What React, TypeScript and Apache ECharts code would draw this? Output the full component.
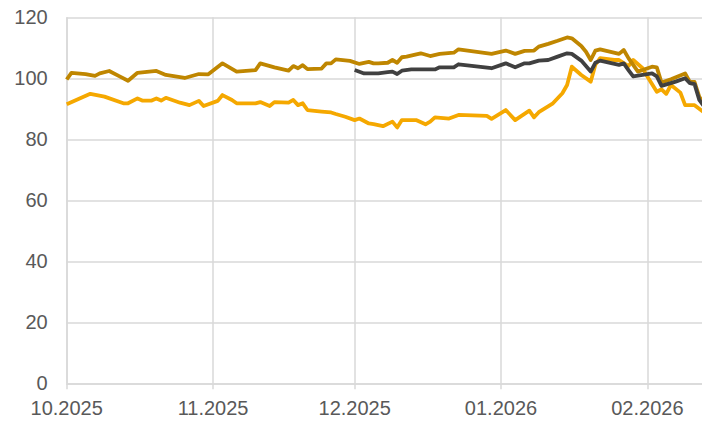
import React, { useEffect, useRef } from "react";
import * as echarts from "echarts";

// Dates (local, yyyy-MM-dd) and values
const goldDates = [
  "2025-10-01", "2025-10-02", "2025-10-05", "2025-10-07", "2025-10-08", "2025-10-10",
  "2025-10-12", "2025-10-14", "2025-10-16", "2025-10-20", "2025-10-22", "2025-10-26",
  "2025-10-29", "2025-10-31", "2025-11-03", "2025-11-06", "2025-11-10", "2025-11-11",
  "2025-11-14", "2025-11-17", "2025-11-18", "2025-11-19", "2025-11-20", "2025-11-21",
  "2025-11-24", "2025-11-25", "2025-11-26", "2025-11-27", "2025-11-30", "2025-12-02",
  "2025-12-04", "2025-12-05", "2025-12-06", "2025-12-08", "2025-12-09", "2025-12-10",
  "2025-12-11", "2025-12-12", "2025-12-15", "2025-12-17", "2025-12-19", "2025-12-22",
  "2025-12-23", "2025-12-30", "2026-01-02", "2026-01-04", "2026-01-06", "2026-01-08",
  "2026-01-09", "2026-01-11", "2026-01-13", "2026-01-15", "2026-01-16", "2026-01-18",
  "2026-01-19", "2026-01-20", "2026-01-21", "2026-01-22", "2026-01-26", "2026-01-27",
  "2026-01-28", "2026-01-30", "2026-01-31", "2026-02-02", "2026-02-03", "2026-02-04",
  "2026-02-06", "2026-02-09", "2026-02-10", "2026-02-11", "2026-02-12", "2026-02-13",
];
const goldValues = [
  99.6, 101.8, 101.4, 100.8, 101.6, 102.4,
  100.8, 99.2, 101.8, 102.4, 101.1, 100.1,
  101.4, 101.3, 104.9, 102.2, 102.7, 104.9,
  103.6, 102.5, 104.0, 103.3, 104.3, 103.0,
  103.2, 104.9, 104.9, 106.2, 105.7, 104.7,
  105.4, 104.9, 104.9, 105.1, 106.0, 105.1,
  106.9, 107.1, 108.2, 107.3, 108.0, 108.4,
  109.5, 108.0, 109.1, 108.0, 109.0, 109.1,
  110.4, 111.3, 112.3, 113.4, 113.1, 110.6,
  108.7, 106.0, 109.1, 109.5, 108.0, 109.3,
  106.6, 102.2, 102.7, 103.8, 103.6, 98.6,
  99.7, 101.6, 98.8, 98.8, 93.9, 91.6,
];

const yellowDates = [
  "2025-10-01", "2025-10-06", "2025-10-09", "2025-10-13", "2025-10-14", "2025-10-16",
  "2025-10-17", "2025-10-19", "2025-10-20", "2025-10-21", "2025-10-22", "2025-10-25",
  "2025-10-27", "2025-10-29", "2025-10-30", "2025-11-02", "2025-11-03", "2025-11-05",
  "2025-11-06", "2025-11-10", "2025-11-11", "2025-11-13", "2025-11-14", "2025-11-17",
  "2025-11-18", "2025-11-19", "2025-11-20", "2025-11-21", "2025-11-24", "2025-11-26",
  "2025-11-27", "2025-11-29", "2025-12-01", "2025-12-02", "2025-12-04", "2025-12-05",
  "2025-12-07", "2025-12-09", "2025-12-10", "2025-12-11", "2025-12-14", "2025-12-16",
  "2025-12-17", "2025-12-18", "2025-12-21", "2025-12-23", "2025-12-29", "2025-12-30",
  "2026-01-02", "2026-01-04", "2026-01-07", "2026-01-08", "2026-01-09", "2026-01-12",
  "2026-01-14", "2026-01-15", "2026-01-16", "2026-01-18", "2026-01-20", "2026-01-21",
  "2026-01-22", "2026-01-25", "2026-01-26", "2026-01-28", "2026-01-29", "2026-01-31",
  "2026-02-01", "2026-02-03", "2026-02-04", "2026-02-05", "2026-02-06", "2026-02-08",
  "2026-02-09", "2026-02-11", "2026-02-13",
];
const yellowValues = [
  91.5, 94.9, 94.0, 91.8, 91.8, 93.4,
  92.7, 92.7, 93.4, 92.7, 93.6, 92.0,
  91.2, 92.6, 90.9, 92.6, 94.5, 92.9,
  91.8, 91.8, 92.2, 90.9, 92.2, 92.0,
  92.9, 91.2, 91.8, 89.6, 89.1, 88.8,
  88.3, 87.4, 86.3, 86.8, 85.2, 85.0,
  84.3, 85.8, 83.9, 86.3, 86.3, 84.9,
  85.8, 87.2, 86.8, 88.0, 87.7, 86.7,
  89.6, 86.3, 89.4, 87.2, 88.9, 91.8,
  95.1, 97.8, 103.8, 101.1, 98.9, 104.5,
  106.6, 106.0, 106.0, 104.0, 106.0, 103.3,
  100.6, 95.6, 96.4, 94.9, 97.8, 95.3,
  91.2, 91.2, 88.8,
];

const grayDates = [
  "2025-12-01", "2025-12-03", "2025-12-06", "2025-12-08", "2025-12-09", "2025-12-10",
  "2025-12-11", "2025-12-13", "2025-12-18", "2025-12-19", "2025-12-22", "2025-12-23",
  "2025-12-30", "2026-01-02", "2026-01-04", "2026-01-06", "2026-01-07", "2026-01-09",
  "2026-01-11", "2026-01-13", "2026-01-15", "2026-01-16", "2026-01-18", "2026-01-20",
  "2026-01-21", "2026-01-22", "2026-01-26", "2026-01-27", "2026-01-28", "2026-01-29",
  "2026-01-31", "2026-02-02", "2026-02-03", "2026-02-04", "2026-02-07", "2026-02-09",
  "2026-02-10", "2026-02-11", "2026-02-12", "2026-02-13",
];
const grayValues = [
  102.7, 101.6, 101.6, 102.0, 102.2, 101.4,
  102.5, 102.9, 102.9, 103.6, 103.6, 104.6,
  103.3, 104.9, 103.6, 104.9, 104.9, 105.8,
  106.0, 107.1, 108.2, 108.0, 105.8, 102.2,
  105.1, 105.8, 104.4, 104.9, 102.7, 100.6,
  101.1, 101.6, 100.6, 97.5, 98.9, 100.0,
  98.4, 98.1, 92.9, 90.8,
];

const xMin = "2025-10-01";
const xMax = "2026-02-13";
const yTicks = [0, 20, 40, 60, 80, 100, 120];

function zip(d: string[], v: number[]) {
  return d.map((x, i) => [x, v[i]]);
}

export default function App() {
  const ref = useRef<HTMLDivElement>(null);
  useEffect(() => {
    if (!ref.current) return;
    const chart = echarts.init(ref.current, null, { renderer: "svg" });
    const font = "'Liberation Sans', Arial, sans-serif";
    const gridColor = "#d9d9d9";
    chart.setOption({
      animation: false,
      grid: {
        left: 66.7,
        right: -2,
        top: 17.3,
        bottom: 38.7,
        containLabel: false,
        outerBoundsMode: "none",
      },
      xAxis: {
        type: "time",
        min: xMin,
        max: xMax,
        splitNumber: 5,
        axisLine: { show: true, lineStyle: { color: gridColor, width: 1.5 } },
        axisTick: { show: true, length: 6, lineStyle: { color: gridColor, width: 1.5 } },
        splitLine: { show: true, lineStyle: { color: gridColor, width: 1.5 } },
        axisLabel: {
          formatter: "{MM}.{yyyy}",
          color: "#595959",
          fontSize: 20,
          fontFamily: font,
          margin: 15,
          hideOverlap: false,
          showMinLabel: true,
        },
      },
      yAxis: {
        type: "value",
        min: yTicks[0],
        max: yTicks[yTicks.length - 1],
        interval: 20,
        axisLine: { show: false },
        axisTick: { show: false },
        splitLine: { show: true, lineStyle: { color: gridColor, width: 1.5 } },
        axisLabel: {
          color: "#595959",
          fontSize: 20,
          fontFamily: font,
          margin: 19,
        },
      },
      series: [
        {
          type: "line",
          data: zip(yellowDates, yellowValues),
          showSymbol: false,
          symbol: "none",
          lineStyle: { color: "#f5a800", width: 3.8, join: "round" },
          itemStyle: { color: "#f5a800" },
        },
        {
          type: "line",
          data: zip(goldDates, goldValues),
          showSymbol: false,
          symbol: "none",
          lineStyle: { color: "#bf8600", width: 3.8, join: "round" },
          itemStyle: { color: "#bf8600" },
        },
        {
          type: "line",
          data: zip(grayDates, grayValues),
          showSymbol: false,
          symbol: "none",
          lineStyle: { color: "#404040", width: 3.8, join: "round" },
          itemStyle: { color: "#404040" },
        },
      ],
    });
    return () => chart.dispose();
  }, []);
  return (
    <div
      ref={ref}
      style={{ position: "fixed", left: 0, top: 0, width: 702, height: 422, background: "#fff" }}
    />
  );
}
